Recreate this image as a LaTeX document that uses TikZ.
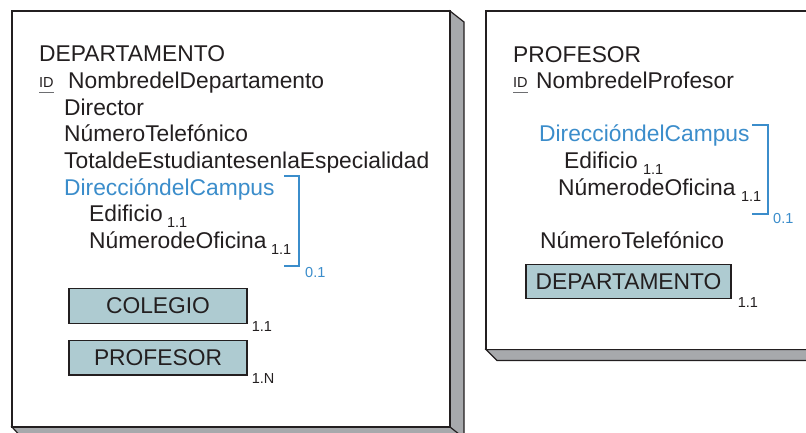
\documentclass[tikz,border=0pt]{standalone}
\usepackage{fontspec}
\setmainfont{Liberation Sans}
\usepackage{xcolor}
\usetikzlibrary{positioning, calc}
\definecolor{InkBlack}{HTML}{231F20}
\definecolor{AttrBlue}{HTML}{3B8DCB}
\definecolor{BoxFill}{HTML}{AECBD1}
\definecolor{ShadowGrey}{HTML}{A7A9AC}
\definecolor{IdLine}{HTML}{6D6E71}

\begin{document}
\begin{tikzpicture}[
  x=1pt, y=-1pt,
  attr/.style={anchor=base west, inner sep=0pt, font=\fontsize{22.8}{27}\selectfont, text=InkBlack},
  compattr/.style={attr, text=AttrBlue},
  card/.style={anchor=base west, inner sep=0pt, font=\fontsize{14.5}{16}\selectfont, text=InkBlack},
  cardB/.style={card, text=AttrBlue},
  refbox/.style={draw=InkBlack, line width=1.2pt, fill=BoxFill, inner sep=0pt,
                 minimum width=178pt, minimum height=34.5pt,
                 font=\fontsize{22.8}{27}\selectfont, text=InkBlack},
  bracket/.style={draw=AttrBlue, line width=1.2pt},
  shadow/.style={draw=InkBlack, line width=1.2pt, fill=ShadowGrey, line join=miter},
  front/.style={draw=InkBlack, line width=1.5pt, fill=white},
  idline/.style={draw=IdLine, line width=1pt},
]
\useasboundingbox (0,0) rectangle (806,432);
\clip (0,0) rectangle (806,432);

% ===== Frames with shadow =====
  \draw[shadow] (450,11) -- (464,22) -- (464,440) -- (24,440) -- (12,427) -- (450,427) -- cycle;
  \draw[shadow] (450,427) -- (464,438);
  \draw[front] (12,11) rectangle (450,427);
  \draw[shadow] (486,349.5) -- (497,360.5) -- (830,360.5) -- (830,349.5) -- cycle;
  \draw[front] (486,11) rectangle (830,349.5);

% ===== Left: DEPARTAMENTO =====
  \node[attr] (deptT) at (39,61) {DEPARTAMENTO};
  \node[card] (idL) at (39,87) {ID};
  \draw[idline] ([yshift=-5pt]idL.base west) -- ([yshift=-5pt]idL.base east);
  \node[attr] (nomD) at (68,88) {NombredelDepartamento};
  \node[attr] (dirD) at (64,115) {Director};
  \node[attr] (telD) at (64,141) {NúmeroTelefónico};
  \node[attr] (totD) at (64,168) {TotaldeEstudiantesenlaEspecialidad};
  \node[compattr] (campD) at (64,195) {DireccióndelCampus};
  \node[attr] (edifD) at (89,221) {Edificio};
  \node[card] (edifDc) at ([xshift=4pt,yshift=-6pt]edifD.base east) {1.1};
  \node[attr] (ofiD) at (89,248) {NúmerodeOficina};
  \node[card] (ofiDc) at ([xshift=4pt,yshift=-6pt]ofiD.base east) {1.1};
  \draw[bracket] (284,176) -- (299,176) -- (299,266) -- (284,266);
  \node[cardB] (campDc) at (305,277) {0.1};
  \node[refbox] (colD) at (158,306) {COLEGIO};
  \node[card] (colDc) at ([xshift=4pt,yshift=-8pt]colD.south east) {1.1};
  \node[refbox, below=16pt of colD] (profD) {PROFESOR};
  \node[card] (profDc) at ([xshift=4pt,yshift=-8pt]profD.south east) {1.N};

% ===== Right: PROFESOR =====
  \node[attr] (profT) at (513,62) {PROFESOR};
  \node[card] (idR) at (513,87) {ID};
  \draw[idline] ([yshift=-5pt]idR.base west) -- ([yshift=-5pt]idR.base east);
  \node[attr] (nomP) at (536,88) {NombredelProfesor};
  \node[compattr] (campP) at (539,141) {DireccióndelCampus};
  \node[attr] (edifP) at (564,168) {Edificio};
  \node[card] (edifPc) at ([xshift=5pt,yshift=-6pt]edifP.base east) {1.1};
  \node[attr] (ofiP) at (558,195) {NúmerodeOficina};
  \node[card] (ofiPc) at ([xshift=5pt,yshift=-6pt]ofiP.base east) {1.1};
  \draw[bracket] (752,125) -- (768,125) -- (768,214) -- (752,214);
  \node[cardB] (campPc) at (773,223) {0.1};
  \node[attr] (telP) at (540,248) {NúmeroTelefónico};
  \node[refbox, minimum width=205pt] (deptP) at (628.5,281.5) {DEPARTAMENTO};
  \node[card] (deptPc) at ([xshift=6pt,yshift=-8pt]deptP.south east) {1.1};

\end{tikzpicture}
\end{document}
